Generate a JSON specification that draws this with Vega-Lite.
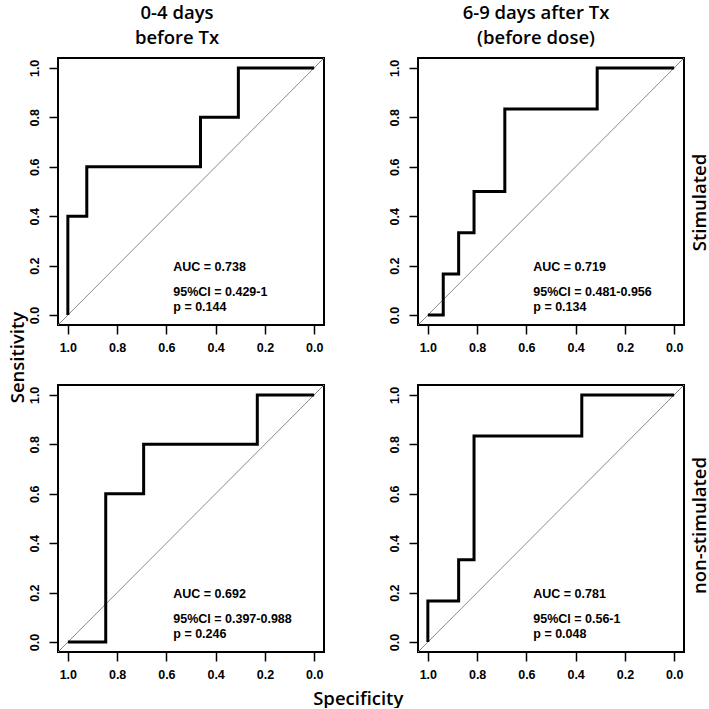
{
  "$schema": "https://vega.github.io/schema/vega-lite/v6.json",
  "padding": {"left": 6, "top": 2, "right": 0, "bottom": 0},
  "background": "white",
  "datasets": {
    "diag": [
      {"spec": 1.04, "sens": -0.04},
      {"spec": -0.04, "sens": 1.04}
    ],
    "roc": [
      {"panel": "TL", "ord": 1, "spec": 1, "sens": 0},
      {"panel": "TL", "ord": 2, "spec": 1, "sens": 0.4},
      {"panel": "TL", "ord": 3, "spec": 0.9231, "sens": 0.4},
      {"panel": "TL", "ord": 4, "spec": 0.9231, "sens": 0.6},
      {"panel": "TL", "ord": 5, "spec": 0.4615, "sens": 0.6},
      {"panel": "TL", "ord": 6, "spec": 0.4615, "sens": 0.8},
      {"panel": "TL", "ord": 7, "spec": 0.3077, "sens": 0.8},
      {"panel": "TL", "ord": 8, "spec": 0.3077, "sens": 1},
      {"panel": "TL", "ord": 9, "spec": 0, "sens": 1},
      {"panel": "TR", "ord": 1, "spec": 1, "sens": 0},
      {"panel": "TR", "ord": 2, "spec": 0.9375, "sens": 0},
      {"panel": "TR", "ord": 3, "spec": 0.9375, "sens": 0.1667},
      {"panel": "TR", "ord": 4, "spec": 0.875, "sens": 0.1667},
      {"panel": "TR", "ord": 5, "spec": 0.875, "sens": 0.3333},
      {"panel": "TR", "ord": 6, "spec": 0.8125, "sens": 0.3333},
      {"panel": "TR", "ord": 7, "spec": 0.8125, "sens": 0.5},
      {"panel": "TR", "ord": 8, "spec": 0.6875, "sens": 0.5},
      {"panel": "TR", "ord": 9, "spec": 0.6875, "sens": 0.8333},
      {"panel": "TR", "ord": 10, "spec": 0.3125, "sens": 0.8333},
      {"panel": "TR", "ord": 11, "spec": 0.3125, "sens": 1},
      {"panel": "TR", "ord": 12, "spec": 0, "sens": 1},
      {"panel": "BL", "ord": 1, "spec": 1, "sens": 0},
      {"panel": "BL", "ord": 2, "spec": 0.8462, "sens": 0},
      {"panel": "BL", "ord": 3, "spec": 0.8462, "sens": 0.6},
      {"panel": "BL", "ord": 4, "spec": 0.6923, "sens": 0.6},
      {"panel": "BL", "ord": 5, "spec": 0.6923, "sens": 0.8},
      {"panel": "BL", "ord": 6, "spec": 0.2308, "sens": 0.8},
      {"panel": "BL", "ord": 7, "spec": 0.2308, "sens": 1},
      {"panel": "BL", "ord": 8, "spec": 0, "sens": 1},
      {"panel": "BR", "ord": 1, "spec": 1, "sens": 0},
      {"panel": "BR", "ord": 2, "spec": 1, "sens": 0.1667},
      {"panel": "BR", "ord": 3, "spec": 0.875, "sens": 0.1667},
      {"panel": "BR", "ord": 4, "spec": 0.875, "sens": 0.3333},
      {"panel": "BR", "ord": 5, "spec": 0.8125, "sens": 0.3333},
      {"panel": "BR", "ord": 6, "spec": 0.8125, "sens": 0.8333},
      {"panel": "BR", "ord": 7, "spec": 0.375, "sens": 0.8333},
      {"panel": "BR", "ord": 8, "spec": 0.375, "sens": 1},
      {"panel": "BR", "ord": 9, "spec": 0, "sens": 1}
    ],
    "notes": [
      {"panel": "TL", "auc": "AUC = 0.738", "ci": "95%CI = 0.429-1", "p": "p = 0.144"},
      {"panel": "TR", "auc": "AUC = 0.719", "ci": "95%CI = 0.481-0.956", "p": "\u00a0p = 0.134"},
      {"panel": "BL", "auc": "AUC = 0.692", "ci": "95%CI = 0.397-0.988", "p": "\u00a0p = 0.246"},
      {"panel": "BR", "auc": "AUC = 0.781", "ci": "95%CI = 0.56-1", "p": "\u00a0p = 0.048"}
    ]
  },
  "title": {"text": "Specificity", "orient": "bottom", "anchor": "middle", "frame": "bounds", "offset": 8},
  "columns": 2,
  "bounds": "flush",
  "spacing": {"row": 60, "column": 94},
  "concat": [
    {
      "width": 266, "height": 267,
      "title": {"text": ["0-4 days", "before Tx"], "dx": -14, "offset": 11, "frame": "group", "anchor": "middle"},
      "resolve": {"axis": {"x": "independent", "y": "independent"}},
      "layer": [
        {"data": {"name": "diag"}, "mark": {"type": "line", "color": "#8a8a8a", "strokeWidth": 1, "clip": true},
         "encoding": {
           "x": {"field": "spec", "type": "quantitative", "scale": {"domain": [-0.04, 1.04], "reverse": true, "nice": false, "zero": false}, "axis": {"title": null, "values": [0, 0.2, 0.4, 0.6, 0.8, 1], "format": ".1f"}},
           "y": {"field": "sens", "type": "quantitative", "scale": {"domain": [-0.04, 1.04], "nice": false, "zero": false}, "axis": {"title": null, "values": [0, 0.2, 0.4, 0.6, 0.8, 1], "format": ".1f"}}}},
        {"data": {"name": "roc"}, "transform": [{"filter": "datum.panel === 'TL'"}], "mark": {"type": "line", "color": "#000", "strokeWidth": 3, "strokeJoin": "miter"},
         "encoding": {"x": {"field": "spec", "type": "quantitative", "axis": null}, "y": {"field": "sens", "type": "quantitative", "axis": null}, "order": {"field": "ord", "type": "quantitative"}}},
        {"data": {"name": "notes"}, "transform": [{"filter": "datum.panel === 'TL'"}], "mark": {"type": "text", "align": "left", "baseline": "middle", "font": "Liberation Sans", "fontWeight": "bold", "fontSize": 12.5, "color": "#000"},
         "encoding": {"x": {"datum": 0.572, "axis": null}, "y": {"datum": 0.195, "axis": null}, "text": {"field": "auc"}}},
        {"data": {"name": "notes"}, "transform": [{"filter": "datum.panel === 'TL'"}], "mark": {"type": "text", "align": "left", "baseline": "middle", "font": "Liberation Sans", "fontWeight": "bold", "fontSize": 12.5, "color": "#000"},
         "encoding": {"x": {"datum": 0.572, "axis": null}, "y": {"datum": 0.094, "axis": null}, "text": {"field": "ci"}}},
        {"data": {"name": "notes"}, "transform": [{"filter": "datum.panel === 'TL'"}], "mark": {"type": "text", "align": "left", "baseline": "middle", "font": "Liberation Sans", "fontWeight": "bold", "fontSize": 12.5, "color": "#000"},
         "encoding": {"x": {"datum": 0.572, "axis": null}, "y": {"datum": 0.032, "axis": null}, "text": {"field": "p"}}}
      ]
    },
    {
      "width": 266, "height": 267,
      "title": {"text": ["6-9 days after Tx", "(before dose)"], "dx": -15, "offset": 11, "frame": "group", "anchor": "middle"},
      "resolve": {"axis": {"x": "independent", "y": "independent"}},
      "layer": [
        {"data": {"name": "diag"}, "mark": {"type": "line", "color": "#8a8a8a", "strokeWidth": 1, "clip": true},
         "encoding": {
           "x": {"field": "spec", "type": "quantitative", "scale": {"domain": [-0.04, 1.04], "reverse": true, "nice": false, "zero": false}, "axis": {"title": null, "values": [0, 0.2, 0.4, 0.6, 0.8, 1], "format": ".1f"}},
           "y": {"field": "sens", "type": "quantitative", "scale": {"domain": [-0.04, 1.04], "nice": false, "zero": false}, "axis": {"title": null, "values": [0, 0.2, 0.4, 0.6, 0.8, 1], "format": ".1f"}}}},
        {"data": {"name": "roc"}, "transform": [{"filter": "datum.panel === 'TR'"}], "mark": {"type": "line", "color": "#000", "strokeWidth": 3, "strokeJoin": "miter"},
         "encoding": {"x": {"field": "spec", "type": "quantitative", "axis": null},
                      "y": {"field": "sens", "type": "quantitative", "axis": {"orient": "right", "title": "Stimulated", "labels": false, "ticks": false, "domain": false, "titleAngle": 270, "titleBaseline": "alphabetic", "titlePadding": 21, "titleY": 144}},
                      "order": {"field": "ord", "type": "quantitative"}}},
        {"data": {"name": "notes"}, "transform": [{"filter": "datum.panel === 'TR'"}], "mark": {"type": "text", "align": "left", "baseline": "middle", "font": "Liberation Sans", "fontWeight": "bold", "fontSize": 12.5, "color": "#000"},
         "encoding": {"x": {"datum": 0.572, "axis": null}, "y": {"datum": 0.195, "axis": null}, "text": {"field": "auc"}}},
        {"data": {"name": "notes"}, "transform": [{"filter": "datum.panel === 'TR'"}], "mark": {"type": "text", "align": "left", "baseline": "middle", "font": "Liberation Sans", "fontWeight": "bold", "fontSize": 12.5, "color": "#000"},
         "encoding": {"x": {"datum": 0.572, "axis": null}, "y": {"datum": 0.094, "axis": null}, "text": {"field": "ci"}}},
        {"data": {"name": "notes"}, "transform": [{"filter": "datum.panel === 'TR'"}], "mark": {"type": "text", "align": "left", "baseline": "middle", "font": "Liberation Sans", "fontWeight": "bold", "fontSize": 12.5, "color": "#000"},
         "encoding": {"x": {"datum": 0.572, "axis": null}, "y": {"datum": 0.032, "axis": null}, "text": {"field": "p"}}}
      ]
    },
    {
      "width": 266, "height": 267,
      "resolve": {"axis": {"x": "independent", "y": "independent"}},
      "layer": [
        {"data": {"name": "diag"}, "mark": {"type": "line", "color": "#8a8a8a", "strokeWidth": 1, "clip": true},
         "encoding": {
           "x": {"field": "spec", "type": "quantitative", "scale": {"domain": [-0.04, 1.04], "reverse": true, "nice": false, "zero": false}, "axis": {"title": null, "values": [0, 0.2, 0.4, 0.6, 0.8, 1], "format": ".1f"}},
           "y": {"field": "sens", "type": "quantitative", "scale": {"domain": [-0.04, 1.04], "nice": false, "zero": false}, "axis": {"title": "Sensitivity", "titleAngle": 270, "titleBaseline": "alphabetic", "titleAlign": "center", "titleX": -35, "titleY": -28, "values": [0, 0.2, 0.4, 0.6, 0.8, 1], "format": ".1f"}}}},
        {"data": {"name": "roc"}, "transform": [{"filter": "datum.panel === 'BL'"}], "mark": {"type": "line", "color": "#000", "strokeWidth": 3, "strokeJoin": "miter"},
         "encoding": {"x": {"field": "spec", "type": "quantitative", "axis": null}, "y": {"field": "sens", "type": "quantitative", "axis": null}, "order": {"field": "ord", "type": "quantitative"}}},
        {"data": {"name": "notes"}, "transform": [{"filter": "datum.panel === 'BL'"}], "mark": {"type": "text", "align": "left", "baseline": "middle", "font": "Liberation Sans", "fontWeight": "bold", "fontSize": 12.5, "color": "#000"},
         "encoding": {"x": {"datum": 0.572, "axis": null}, "y": {"datum": 0.195, "axis": null}, "text": {"field": "auc"}}},
        {"data": {"name": "notes"}, "transform": [{"filter": "datum.panel === 'BL'"}], "mark": {"type": "text", "align": "left", "baseline": "middle", "font": "Liberation Sans", "fontWeight": "bold", "fontSize": 12.5, "color": "#000"},
         "encoding": {"x": {"datum": 0.572, "axis": null}, "y": {"datum": 0.094, "axis": null}, "text": {"field": "ci"}}},
        {"data": {"name": "notes"}, "transform": [{"filter": "datum.panel === 'BL'"}], "mark": {"type": "text", "align": "left", "baseline": "middle", "font": "Liberation Sans", "fontWeight": "bold", "fontSize": 12.5, "color": "#000"},
         "encoding": {"x": {"datum": 0.572, "axis": null}, "y": {"datum": 0.032, "axis": null}, "text": {"field": "p"}}}
      ]
    },
    {
      "width": 266, "height": 267,
      "resolve": {"axis": {"x": "independent", "y": "independent"}},
      "layer": [
        {"data": {"name": "diag"}, "mark": {"type": "line", "color": "#8a8a8a", "strokeWidth": 1, "clip": true},
         "encoding": {
           "x": {"field": "spec", "type": "quantitative", "scale": {"domain": [-0.04, 1.04], "reverse": true, "nice": false, "zero": false}, "axis": {"title": null, "values": [0, 0.2, 0.4, 0.6, 0.8, 1], "format": ".1f"}},
           "y": {"field": "sens", "type": "quantitative", "scale": {"domain": [-0.04, 1.04], "nice": false, "zero": false}, "axis": {"title": null, "values": [0, 0.2, 0.4, 0.6, 0.8, 1], "format": ".1f"}}}},
        {"data": {"name": "roc"}, "transform": [{"filter": "datum.panel === 'BR'"}], "mark": {"type": "line", "color": "#000", "strokeWidth": 3, "strokeJoin": "miter"},
         "encoding": {"x": {"field": "spec", "type": "quantitative", "axis": null},
                      "y": {"field": "sens", "type": "quantitative", "axis": {"orient": "right", "title": "non-stimulated", "labels": false, "ticks": false, "domain": false, "titleAngle": 270, "titleBaseline": "alphabetic", "titlePadding": 21, "titleY": 140}},
                      "order": {"field": "ord", "type": "quantitative"}}},
        {"data": {"name": "notes"}, "transform": [{"filter": "datum.panel === 'BR'"}], "mark": {"type": "text", "align": "left", "baseline": "middle", "font": "Liberation Sans", "fontWeight": "bold", "fontSize": 12.5, "color": "#000"},
         "encoding": {"x": {"datum": 0.572, "axis": null}, "y": {"datum": 0.195, "axis": null}, "text": {"field": "auc"}}},
        {"data": {"name": "notes"}, "transform": [{"filter": "datum.panel === 'BR'"}], "mark": {"type": "text", "align": "left", "baseline": "middle", "font": "Liberation Sans", "fontWeight": "bold", "fontSize": 12.5, "color": "#000"},
         "encoding": {"x": {"datum": 0.572, "axis": null}, "y": {"datum": 0.094, "axis": null}, "text": {"field": "ci"}}},
        {"data": {"name": "notes"}, "transform": [{"filter": "datum.panel === 'BR'"}], "mark": {"type": "text", "align": "left", "baseline": "middle", "font": "Liberation Sans", "fontWeight": "bold", "fontSize": 12.5, "color": "#000"},
         "encoding": {"x": {"datum": 0.572, "axis": null}, "y": {"datum": 0.032, "axis": null}, "text": {"field": "p"}}}
      ]
    }
  ],
  "config": {
    "view": {"stroke": "#000", "strokeWidth": 2},
    "axis": {
      "grid": false, "domain": false,
      "labelFont": "Liberation Sans", "labelFontWeight": "bold", "labelFontSize": 12.5, "labelColor": "#000",
      "labelFlush": false, "labelOverlap": false,
      "tickColor": "#000", "tickSize": 9, "tickWidth": 1.5,
      "titleFont": "Open Sans", "titleFontSize": 18.5, "titleFontWeight": 600, "titleColor": "#000"
    },
    "axisX": {"labelPadding": 7},
    "axisY": {"labelAngle": 270, "labelAlign": "center", "labelBaseline": "alphabetic", "labelPadding": 11},
    "title": {"font": "Open Sans", "fontSize": 18.5, "fontWeight": 600, "color": "#000", "lineHeight": 25}
  }
}
